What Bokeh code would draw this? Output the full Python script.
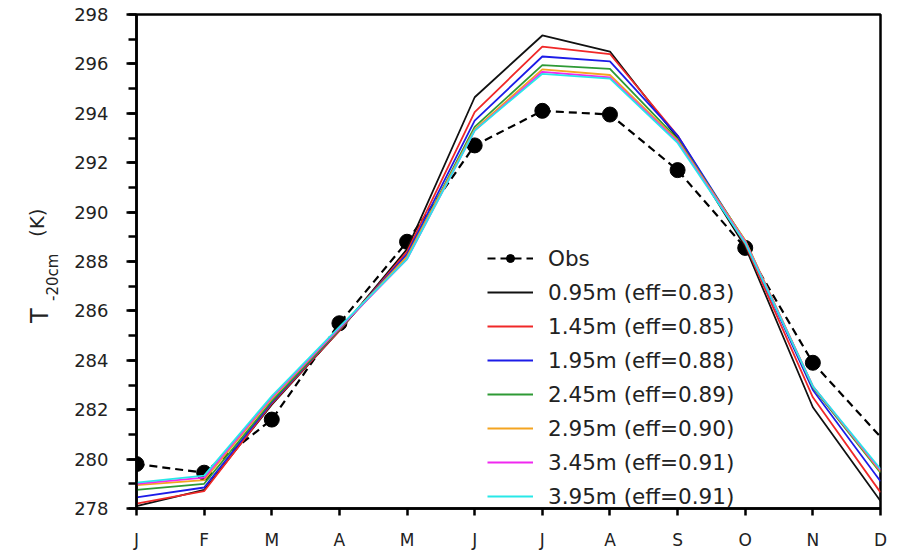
import math
from bokeh.plotting import figure
from bokeh.layouts import row
from bokeh.models import (Range1d, FixedTicker, SingleIntervalTicker, Legend, LegendItem, Label)
from bokeh.embed import file_html
from bokeh.resources import INLINE

# ---------------- data ----------------
months = ["J", "F", "M", "A", "M", "J", "J", "A", "S", "O", "N", "D"]
month_idx = list(range(12))

obs = [279.8, 279.45, 281.6, 285.5, 288.8, 292.7, 294.1, 293.95, 291.7, 288.55, 283.9, 280.9]
obs_marker_count = 11  # the December observation has no marker in the reference

d095 = [278.1, 278.75, 282.2, 285.2, 288.5, 294.65, 297.15, 296.5, 293.0, 288.6, 282.1, 278.3]
d145 = [278.2, 278.7, 282.25, 285.2, 288.4, 294.05, 296.7, 296.4, 293.1, 288.7, 282.5, 278.65]
d195 = [278.45, 278.85, 282.3, 285.25, 288.3, 293.7, 296.3, 296.1, 293.1, 288.8, 282.8, 279.1]
d245 = [278.75, 279.0, 282.35, 285.25, 288.2, 293.45, 295.95, 295.8, 292.95, 288.85, 282.9, 279.45]
d295 = [278.95, 279.15, 282.45, 285.3, 288.2, 293.35, 295.78, 295.55, 292.9, 288.85, 282.95, 279.5]
d345 = [279.0, 279.25, 282.5, 285.3, 288.1, 293.3, 295.68, 295.45, 292.85, 288.8, 282.95, 279.55]
d395 = [279.05, 279.33, 282.55, 285.35, 288.1, 293.3, 295.6, 295.4, 292.8, 288.75, 282.95, 279.6]

series = [d095, d145, d195, d245, d295, d345, d395]
series_labels = ["0.95m (eff=0.83)", "1.45m (eff=0.85)", "1.95m (eff=0.88)", "2.45m (eff=0.89)",
                 "2.95m (eff=0.90)", "3.45m (eff=0.91)", "3.95m (eff=0.91)"]
series_colors = ["#111111", "#f02828", "#1c1ce8", "#2e9a35", "#f4a420", "#f028f0", "#28e8e8"]

y_ticks_major = 2
y_min, y_max = 278, 298

FONT = "DejaVu Sans"
TEXT_COLOR = "#222222"

# layout geometry (pixels)
TW, H = 60, 552
FRAME_TOP, FRAME_BOTTOM = 14, 509

# ---------------- y-axis title panel (T_-20cm (K)) ----------------
# the row aligns this figure's frame with the main frame, so its y range maps page pixels
title_fig = figure(width=TW, height=H, output_backend="svg", toolbar_location=None,
                   title=None,
                   x_range=Range1d(0, TW), y_range=Range1d(FRAME_BOTTOM, FRAME_TOP),
                   x_axis_type=None, y_axis_type=None,
                   min_border=0,
                   min_border_left=0, min_border_right=0, min_border_top=0, min_border_bottom=0)
title_fig.grid.visible = False
title_fig.outline_line_color = None
title_fig.background_fill_color = "white"
title_fig.border_fill_color = "white"

title_fig.add_layout(Label(x=39, y=323, text="T", angle=math.pi / 2, text_font=FONT,
                           text_font_size="24px", text_color=TEXT_COLOR, text_align="left",
                           text_baseline="alphabetic"))
title_fig.add_layout(Label(x=52, y=301, text="-20cm", angle=math.pi / 2, text_font=FONT,
                           text_font_size="15px", text_color=TEXT_COLOR, text_align="left",
                           text_baseline="alphabetic"))
title_fig.add_layout(Label(x=36, y=237, text="(K)", angle=math.pi / 2, text_font=FONT,
                           text_font_size="20px", text_color=TEXT_COLOR, text_align="left",
                           text_baseline="alphabetic"))

# ---------------- main figure ----------------
p = figure(width=897 - TW, height=H, output_backend="svg", toolbar_location=None,
           x_range=Range1d(0, 11), y_range=Range1d(y_min, y_max),
           min_border_left=136 - TW, min_border_right=17,
           min_border_top=FRAME_TOP, min_border_bottom=H - FRAME_BOTTOM)
p.grid.visible = False
p.outline_line_color = "black"
p.outline_line_width = 2.5
p.background_fill_color = "white"
p.border_fill_color = "white"

# observations
obs_line = p.line(month_idx, obs, line_color="black", line_width=2.2, line_dash="8 5")
obs_pts = p.scatter(month_idx[:obs_marker_count], obs[:obs_marker_count], size=15,
                    fill_color="black", line_color="black")

renderers = []
for vals, col in zip(series, series_colors):
    r = p.line(month_idx, vals, line_color=col, line_width=1.8)
    renderers.append(r)

# axes
xa = p.xaxis[0]
xa.ticker = FixedTicker(ticks=month_idx)
xa.major_label_overrides = {i: m for i, m in zip(month_idx, months)}
xa.major_label_text_font = FONT
xa.major_label_text_font_size = "17px"
xa.major_label_text_color = TEXT_COLOR
xa.major_tick_out = 7
xa.major_tick_in = 0
xa.minor_tick_out = 0
xa.minor_tick_in = 0
xa.major_label_standoff = 14
xa.axis_line_width = 2.5
xa.major_tick_line_width = 2.5

ya = p.yaxis[0]
ya.ticker = SingleIntervalTicker(interval=y_ticks_major, num_minor_ticks=2)
ya.major_label_text_font = FONT
ya.major_label_text_font_size = "18px"
ya.major_label_text_color = TEXT_COLOR
ya.major_tick_out = 10
ya.major_tick_in = 0
ya.minor_tick_out = 8
ya.minor_tick_in = 0
ya.major_label_standoff = 18
ya.axis_line_width = 2.5
ya.major_tick_line_width = 2.5
ya.minor_tick_line_width = 2.5

# legend
items = [LegendItem(label="Obs", renderers=[obs_line, obs_pts])]
for r, lab in zip(renderers, series_labels):
    items.append(LegendItem(label=lab, renderers=[r]))

legend = Legend(items=items, location=(351, -3), padding=0, margin=0,
                border_line_alpha=0, background_fill_alpha=0,
                label_text_font=FONT, label_text_font_size="21.5px", label_text_color=TEXT_COLOR,
                glyph_width=46, glyph_height=20, label_height=30, spacing=4,
                label_standoff=15)
p.add_layout(legend)

layout = row(title_fig, p, spacing=0)
open("out.html", "w").write(file_html(layout, INLINE))
